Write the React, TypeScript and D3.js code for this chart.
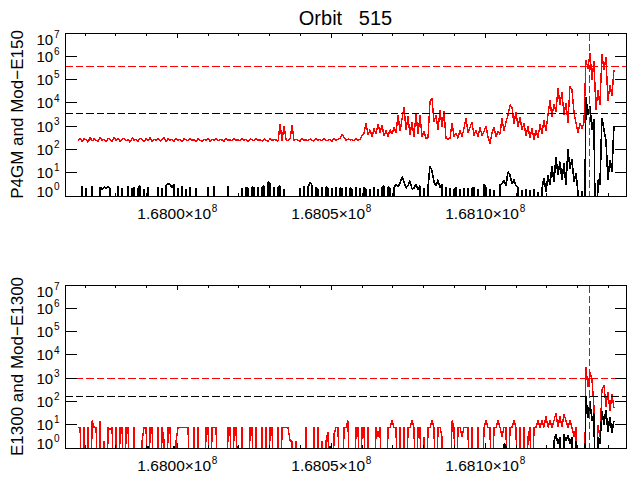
import React, { useEffect, useRef } from 'react';
import * as d3 from 'd3';

// time axis (seconds)
const xDomain: [number, number] = [167963500, 168145700];
const xMajorTicks = [168000000, 168050000, 168100000];
const xMinorStep = 10000;
const yDecades = [0, 1, 2, 3, 4, 5, 6, 7];
const sampleStart = 167967760; // first sample
const sampleStep = 649.35; // cadence of the binned samples (s)
const crossingTime = 168133780;
const orbitNumber = 515;

// P4GM (red) and Mod-E150 (black)
const p4gmRed = [
  240, 310, 215, 295, 260, 205, 330, 230, 285, 250,
  215, 320, 245, 275, 210, 300, 260, 225, 340, 235,
  290, 220, 265, 310, 230, 280, 205, 315, 245, 270,
  225, 305, 260, 215, 290, 240, 330, 220, 275, 250,
  300, 230, 255, 320, 210, 285, 245, 270, 225, 310,
  240, 280, 215, 295, 255, 230, 305, 245, 265, 220,
  290, 250, 230, 275, 245, 300, 220, 265, 250, 285,
  235, 270, 255, 225, 295, 245, 265, 230, 285, 250,
  260, 230, 290, 245, 270, 220, 280, 255, 235, 295,
  245, 265, 230, 280, 250, 225, 290, 240, 270, 255,
  230, 1200, 240, 1000, 270, 230, 285, 1100, 240, 275,
  250, 225, 290, 245, 265, 235, 280, 250, 230, 285,
  245, 270, 230, 290, 250, 240, 275, 225, 295, 250,
  265, 300, 450, 330, 240, 280, 255, 270, 235, 285,
  250, 275, 380, 500, 1340, 420, 700, 350, 800, 450,
  1250, 500, 1100, 380, 650, 350, 700, 450, 900, 500,
  3000, 600, 2000, 6500, 700, 2600, 400, 1500, 350, 3600,
  450, 3000, 350, 600, 300, 320, 11000, 16000, 1500, 3000,
  700, 5000, 900, 4500, 300, 270, 300, 1400, 350, 500,
  300, 650, 350, 800, 2200, 500, 900, 1500, 400, 700,
  350, 900, 400, 600, 1000, 350, 180, 500, 900, 350,
  600, 450, 2200, 600, 1500, 3000, 8200, 6500, 1200, 4200,
  900, 2500, 700, 1300, 400, 1000, 300, 800, 260, 700,
  300, 1200, 450, 1800, 600, 3000, 13000, 2500, 9000, 4000,
  44000, 8000, 30000, 3000, 10000, 1400, 50000, 36000, 4000, 1400,
  500, 1400, 800, 1400, 700000, 300000, 1400000, 100000, 600000, 5000,
  36000, 8000, 1200000, 260000, 900000, 12000, 60000, 20000, 260000,
];

const p4gmBlack = [
  0, 0, 2.7, 0, 2.2, 0, 0, 2.7, 0, 0,
  0, 2.4, 2.0, 2.4, 2.2, 2.5, 2.0, 0, 0, 0,
  2.7, 0, 2.2, 0, 0, 2.8, 0, 2.0, 2.4, 0,
  2.2, 2.7, 0, 2.0, 0, 2.5, 0, 0, 0, 0,
  2.4, 0, 2.2, 0, 2.7, 3.5, 3, 2.4, 3.3, 0,
  2.2, 0, 2.7, 0, 2.0, 0, 2.5, 0, 0, 2.2,
  0, 0, 0, 0, 0, 2.4, 0, 0, 2.7, 0,
  0, 0, 0, 0, 0, 2.7, 0, 0, 0, 0,
  0, 0, 2.2, 0, 2.4, 2.0, 0, 2.5, 2.2, 0,
  2.4, 0, 2.2, 2.7, 0, 4, 3.3, 0, 2.4, 0,
  2.2, 2.7, 0, 2.0, 0, 0, 0, 0, 0, 0,
  0, 2.2, 0, 2.7, 0, 2.4, 4, 2.8, 0, 2.4,
  1.8, 0, 2.4, 0, 2.5, 2.0, 0, 2.2, 0, 2.4,
  0, 2.2, 2.0, 0, 2.4, 0, 2.2, 1.8, 0, 2.4,
  0, 2.2, 0, 2.4, 1.8, 0, 2.0, 0, 2.4, 0,
  2.0, 0, 2.2, 2.7, 0, 2.4, 2.2, 0, 2.4, 3,
  2.5, 3.5, 6.7, 4, 2.2, 2.8, 4.5, 2.0, 2.2, 3.3,
  1.8, 2.8, 0, 2.2, 0, 2.4, 19, 12, 4, 2.8,
  5, 2.2, 3.3, 0, 2.4, 0, 2.2, 0, 1.8, 2.4,
  0, 2.0, 0, 2.2, 0, 2.2, 0, 2.0, 2.4, 0,
  2.0, 0, 0, 3.3, 2.2, 0, 2.0, 0, 1.8, 0,
  0, 3, 3.3, 4.8, 2.8, 11, 8, 3.3, 5, 2.8,
  2.2, 0, 1.8, 0, 2.0, 0, 1.8, 0, 2.0, 0,
  1.5, 0, 2, 6, 1.5, 8, 3, 20, 4, 45,
  8, 30, 5, 25, 3, 100, 15, 40, 4, 10,
  1.5, 0, 1.6, 0, 18000, 3000, 7000, 700, 2000, 0,
  5, 3, 2200, 700, 250, 5, 35, 11, 1000,
];

// E1300 (red) and Mod-E1300 (black)
const e1300Red = [
  7.7, 7.7, 0, 7.7, 0, 7.7, 0, 15, 7.7, 7.7,
  0, 15, 0, 2, 0, 7.7, 6, 7.7, 0, 7.7,
  0, 7.7, 7.7, 0, 7.7, 7.7, 0, 0, 7.7, 0,
  0, 0, 2, 7.7, 7.7, 0, 7.7, 7.7, 0, 0,
  7.7, 0, 7.7, 2, 0, 7.7, 7.7, 0, 0, 2,
  7.7, 7.7, 7.7, 7.7, 7.7, 7.7, 0, 0, 7.7, 0,
  7.7, 0, 0, 0, 7.7, 7.7, 0, 7.7, 7.7, 7.7,
  0, 0, 0, 0, 0, 7.7, 7.7, 0, 7.7, 7.7,
  0, 0, 7.7, 0, 0, 0, 7.7, 7.7, 0, 7.7,
  0, 0, 7.7, 0, 7.7, 0, 7.7, 7.7, 0, 0,
  7.7, 0, 7.7, 7.7, 7.7, 7.7, 2, 2, 0, 2,
  0, 0, 0, 0, 7.7, 0, 0, 0, 7.7, 0,
  7.7, 0, 2, 0, 2, 5, 0, 0, 4, 7.7,
  7.7, 0, 0, 7.7, 7.7, 15, 0, 0, 0, 7.7,
  7.7, 0, 7.7, 7.7, 0, 7.7, 0, 0, 0, 7.7,
  3, 7.7, 0, 0, 0, 7.7, 7.7, 15, 7.7, 7.7,
  0, 7.7, 0, 7.7, 0, 7.7, 7.7, 15, 7.7, 0,
  7.7, 7.7, 0, 3, 0, 7.7, 7.7, 15, 7.7, 0,
  7.7, 7.7, 3, 0, 0, 0, 0, 15, 7.7, 0,
  7.7, 7.7, 3, 7.7, 7.7, 7.7, 0, 7.7, 0, 0,
  7.7, 0, 0, 7.7, 15, 7.7, 7.7, 0, 7.7, 7.7,
  15, 7.7, 3, 7.7, 7.7, 0, 7.7, 7.7, 15, 7.7,
  0, 7.7, 0, 7.7, 0, 3, 7.7, 0, 7.7, 7.7,
  15, 7.7, 15, 7.7, 23, 7.7, 15, 7.7, 15, 32,
  7.7, 23, 7.7, 28, 15, 7.7, 15, 7.7, 3, 7.7,
  0, 0, 0, 0, 2900, 400, 1800, 850, 60, 0,
  10, 3, 300, 520, 60, 250, 40, 200, 50,
];

const e1300Black = [
  0, 0, 0, 0, 0, 0, 0, 0, 0, 0,
  0, 0, 0, 0, 0, 0, 0, 0, 0, 0,
  0, 0, 0, 0, 0, 0, 0, 0, 0, 0,
  0, 0, 0, 0, 0, 1.2, 0, 0, 0, 0,
  0, 0, 0, 0, 0, 0, 0, 0, 1.2, 0,
  0, 0, 0, 0, 0, 0, 0, 0, 0, 0,
  0, 0, 0, 0, 0, 0, 0, 0, 0, 0,
  0, 0, 0, 0, 0, 0, 0, 0, 0, 0,
  1.2, 0, 0, 0, 0, 0, 0, 0, 0, 0,
  0, 0, 0, 0, 0, 0, 0, 0, 0, 0,
  0, 0, 0, 0, 0, 0, 0, 0, 0, 0,
  0, 0, 0, 0, 0, 0, 0, 0, 0, 0,
  0, 0, 0, 0, 0, 0, 1.2, 0, 0, 0,
  0, 0, 0, 0, 0, 0, 0, 0, 0, 0,
  0, 0, 0, 0, 0, 0, 0, 0, 0, 0,
  0, 0, 0, 0, 0, 0, 0, 0, 0, 0,
  0, 0, 0, 0, 0, 0, 0, 0, 0, 0,
  0, 0, 0, 0, 0, 0, 0, 0, 0, 0,
  0, 0, 0, 0, 0, 0, 0, 0, 0, 0,
  0, 0, 0, 0, 0, 0, 0, 0, 0, 0,
  0, 0, 0, 0, 0, 0, 0, 0, 0, 0,
  0, 0, 0, 1.5, 1.2, 0, 0, 0, 0, 0,
  0, 0, 0, 0, 0, 0, 0, 0, 0, 0,
  0, 0, 0, 0, 0, 0, 0, 0, 2, 4,
  1.5, 3, 0, 4, 2, 3.5, 1.5, 3, 0, 2,
  0, 0, 0, 0, 160, 20, 100, 15, 30, 0,
  3, 1.5, 40, 10, 44, 5, 22, 4.5, 15,
];

// threshold levels (dashed)
const p4gmRedLimit = 380000;
const p4gmBlackLimit = 3600;
const e1300RedLimit = 1000;
const e1300BlackLimit = 160;

const FONT = '"Liberation Sans", Arial, sans-serif';
const LEFT = 65;
const RIGHT = 626;
const DASH = '7.5,3';

interface Panel {
  top: number;
  bottom: number;
  label: string;
  red: number[];
  black: number[];
  redLimit: number;
  blackLimit: number;
}

const panels: Panel[] = [
  { top: 33, bottom: 196, label: 'P4GM and Mod\u2212E150', red: p4gmRed, black: p4gmBlack, redLimit: p4gmRedLimit, blackLimit: p4gmBlackLimit },
  { top: 285, bottom: 448, label: 'E1300 and Mod\u2212E1300', red: e1300Red, black: e1300Black, redLimit: e1300RedLimit, blackLimit: e1300BlackLimit },
];

const App: React.FC = () => {
  const ref = useRef<SVGSVGElement>(null);

  useEffect(() => {
    const svg = d3.select(ref.current);
    svg.selectAll('*').remove();

    svg.append('text')
      .attr('x', (LEFT + RIGHT) / 2).attr('y', 25)
      .attr('text-anchor', 'middle')
      .style('font-family', FONT).style('font-size', '20px').style('white-space', 'pre')
      .text(`Orbit   ${orbitNumber}`);

    const x = d3.scaleLinear().domain(xDomain).range([LEFT, RIGHT]);
    const minorTicks = d3.range(Math.ceil(xDomain[0] / xMinorStep) * xMinorStep, xDomain[1], xMinorStep)
      .filter(t => !xMajorTicks.includes(t));

    panels.forEach((p, idx) => {
      const y = d3.scaleLog().domain([1, 1e7]).range([p.bottom, p.top]);
      const clipId = `clip-${idx}`;
      svg.append('clipPath').attr('id', clipId).append('rect')
        .attr('x', LEFT).attr('y', p.top).attr('width', RIGHT - LEFT).attr('height', p.bottom - p.top);

      // zero counts fall far below the log axis and get clipped
      const line = d3.line<number>()
        .x((_, i) => x(sampleStart + i * sampleStep))
        .y(d => y(d > 0 ? d : 1e-4));

      const plot = svg.append('g').attr('clip-path', `url(#${clipId})`);
      plot.append('path').attr('d', line(p.red) ?? '')
        .attr('fill', 'none').attr('stroke', '#ff0000').attr('stroke-width', 1.4)
        .attr('stroke-linejoin', 'bevel').attr('shape-rendering', 'crispEdges');
      plot.append('path').attr('d', line(p.black) ?? '')
        .attr('fill', 'none').attr('stroke', '#000').attr('stroke-width', 1.6)
        .attr('stroke-linejoin', 'bevel').attr('shape-rendering', 'crispEdges');

      const dashed = [
        { v: p.redLimit, c: '#ff0000' },
        { v: p.blackLimit, c: '#000' },
      ];
      dashed.forEach(d => {
        plot.append('line')
          .attr('x1', LEFT).attr('x2', RIGHT).attr('y1', y(d.v)).attr('y2', y(d.v))
          .attr('stroke', d.c).attr('stroke-dasharray', DASH).attr('shape-rendering', 'crispEdges');
      });
      plot.append('line')
        .attr('x1', x(crossingTime)).attr('x2', x(crossingTime)).attr('y1', p.top).attr('y2', p.bottom)
        .attr('stroke', '#ff0000').attr('stroke-dasharray', DASH).attr('shape-rendering', 'crispEdges');

      const axes = svg.append('g').attr('stroke', '#000').attr('shape-rendering', 'crispEdges');
      axes.append('rect')
        .attr('x', LEFT).attr('y', p.top).attr('width', RIGHT - LEFT).attr('height', p.bottom - p.top)
        .attr('fill', 'none');

      xMajorTicks.forEach(t => {
        axes.append('line').attr('x1', x(t)).attr('x2', x(t)).attr('y1', p.top).attr('y2', p.top + 5);
        axes.append('line').attr('x1', x(t)).attr('x2', x(t)).attr('y1', p.bottom).attr('y2', p.bottom - 5);
      });
      minorTicks.forEach(t => {
        axes.append('line').attr('x1', x(t)).attr('x2', x(t)).attr('y1', p.top).attr('y2', p.top + 2.7);
        axes.append('line').attr('x1', x(t)).attr('x2', x(t)).attr('y1', p.bottom).attr('y2', p.bottom - 2.7);
      });
      yDecades.forEach(k => {
        const yy = y(Math.pow(10, k));
        axes.append('line').attr('x1', LEFT).attr('x2', LEFT + 11.5).attr('y1', yy).attr('y2', yy);
        axes.append('line').attr('x1', RIGHT).attr('x2', RIGHT - 11.5).attr('y1', yy).attr('y2', yy);

        const shift = k === 7 ? 11.5 : k === 0 ? 0.5 : 5.4;
        const txt = svg.append('text')
          .attr('x', 59.5).attr('y', yy + shift).attr('text-anchor', 'end')
          .style('font-family', FONT).style('font-size', '15px');
        txt.append('tspan').text('10');
        txt.append('tspan').attr('dx', 0.8).attr('dy', -6.7).style('font-size', '10px').text(String(k));
      });

      xMajorTicks.forEach(t => {
        const txt = svg.append('text')
          .attr('x', x(t)).attr('y', p.bottom + 23).attr('text-anchor', 'middle')
          .style('font-family', FONT).style('font-size', '15.5px');
        txt.append('tspan').text(`${(t / 1e8).toFixed(4)}\u00d710`);
        txt.append('tspan').attr('dx', 0.8).attr('dy', -6.7).style('font-size', '10px').text('8');
      });

      svg.append('text')
        .attr('transform', `translate(23,${(p.top + p.bottom) / 2}) rotate(-90)`)
        .attr('text-anchor', 'middle')
        .style('font-family', FONT).style('font-size', '17px')
        .text(p.label);
    });
  }, []);

  return (
    <svg ref={ref} width={637} height={480}
      style={{ position: 'absolute', left: 0, top: 0, background: '#fff' }} />
  );
};

export default App;
